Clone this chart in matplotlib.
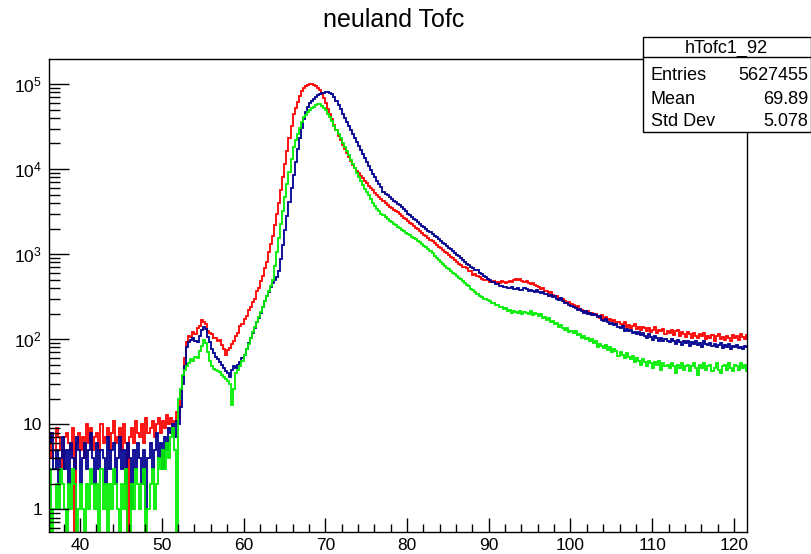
import numpy as np
import matplotlib
matplotlib.use('Agg')
from matplotlib import pyplot as plt
from matplotlib.patches import Rectangle
from matplotlib.lines import Line2D
from matplotlib.ticker import MultipleLocator, LogLocator, FuncFormatter

# histogram binning (0.25 wide bins starting at 36)
bin_lo = 36.0
bin_width = 0.25

# bin contents, 36 -> 122
red_counts = [
    6, 8, 4, 5, 9, 7, 5, 3, 7, 8,
    6, 5, 9, 0, 6, 8, 5, 7, 4, 10,
    6, 9, 5, 7, 8, 5, 10, 6, 7, 9,
    5, 8, 11, 6, 7, 9, 5, 10, 6, 0,
    7, 9, 6, 11, 8, 7, 10, 6, 12, 8,
    9, 11, 7, 10, 12, 8, 11, 9, 13, 10,
    12, 9, 11, 14,
    12, 24, 36, 60, 92, 110, 106, 122, 116, 134, 144, 168, 158, 152, 124, 118, 114, 102, 104, 96,
    98, 86, 76, 66, 74, 78, 88, 94, 110, 118, 142, 150, 172, 186, 220, 242, 275, 300, 365, 405,
    480, 560, 680, 800, 1070, 1310, 1620, 2190, 2950, 3980,
    5620, 8130, 11500, 16200, 22900, 32400, 44700, 52500, 61700, 72400,
    83000, 89000, 94400, 97700, 100000, 99800, 98000, 95000, 91000, 85000,
    77000, 68000, 59500, 51500, 44500, 38500, 33000, 28500, 24800, 21800,
    19200, 17100, 15300, 13800, 12450, 11250, 10300, 9600, 8900, 8300,
    7780, 7300, 6800, 6380, 5950, 5630, 5240, 4960, 4650, 4420,
    4170, 3980, 3800, 3630, 3470, 3310, 3200, 3090, 2950, 2820,
    2690, 2570, 2450, 2340, 2240, 2140, 2040, 1950, 1860, 1780,
    1700, 1620, 1550, 1480, 1410, 1350, 1290, 1230, 1175, 1120,
    1070, 1020, 980, 935, 890, 850, 815, 775, 740, 710,
    700, 680, 640, 628, 570, 584, 548, 536, 512, 500, 492, 506, 476, 466, 482, 458, 470, 460, 478, 470,
    454, 468, 486, 470, 496, 508, 492, 516, 488, 470, 482, 460, 446, 458, 430, 418, 410, 392, 398, 372,
    372, 352, 360, 334, 326, 318, 306, 296, 300, 280, 270, 276, 258, 250, 236, 248, 228, 222, 216, 210,
    212, 196, 206, 190, 198, 186, 178, 192, 174, 182, 166, 172, 162, 168, 152, 160, 150, 146, 158, 140,
    148, 136, 144, 150, 132, 140, 128, 138, 134, 126, 136, 122, 130, 140, 118, 128, 124, 132, 114, 126,
    118, 128, 112, 124, 130, 108, 120, 114, 106, 122, 116, 104, 118, 110, 102, 114, 108, 118, 100, 110,
    104, 112, 96, 108, 116, 100, 106, 98, 110, 102, 96, 112, 104, 110, 98, 114, 106, 100, 112, 104,
]
blue_counts = [
    4, 6, 8, 3, 5, 2, 4, 7, 3, 5,
    2, 6, 4, 3, 7, 5, 2, 4, 6, 3,
    5, 8, 4, 2, 6, 3, 5, 4, 2, 7,
    3, 5, 6, 2, 4, 7, 3, 5, 2, 6,
    4, 1, 5, 3, 6, 4, 2, 5, 1, 4,
    6, 3, 5, 8, 4, 6, 3, 7, 5, 9,
    8, 10, 7, 11,
    10, 16, 30, 48, 80, 92, 98, 104, 96, 92, 110, 128, 140, 132, 106, 92, 76, 68, 62, 58,
    54, 50, 46, 42, 40, 36, 44, 48, 46, 50, 54, 60, 66, 76, 90, 102, 118, 134, 158, 178,
    205, 240, 280, 320, 360, 410, 455, 500, 545, 640,
    880, 1290, 1910, 2820, 4150, 6000, 8600, 12200, 17000, 23000,
    30500, 38500, 46500, 54000, 59500, 63500, 67500, 71000, 74000, 76500,
    78500, 79500, 80000, 79800, 78500, 75500, 70500, 64000, 57000, 50500,
    44500, 39500, 35500, 32000, 29000, 26000, 23500, 21000, 18800, 16800,
    15000, 13400, 12000, 10800, 9700, 8800, 8000, 7300, 6700, 6150,
    5370, 5130, 4900, 4680, 4470, 4270, 4070, 3940, 3800, 3590,
    3390, 3200, 2990, 2860, 2730, 2610, 2490, 2380, 2270, 2170,
    2070, 1980, 1890, 1800, 1720, 1640, 1570, 1500, 1430, 1370,
    1310, 1250, 1190, 1140, 1090, 1040, 990, 945, 905, 865,
    805, 765, 745, 712, 694, 660, 646, 604, 584, 550, 536, 506, 496, 472, 466, 446, 444, 426, 424, 410,
    412, 398, 396, 408, 386, 392, 400, 384, 380, 396, 388, 372, 382, 370, 358, 376, 362, 348, 356, 336,
    338, 324, 330, 312, 318, 300, 288, 302, 278, 264, 270, 252, 246, 238, 232, 222, 226, 214, 204, 212,
    200, 204, 192, 198, 194, 182, 188, 170, 164, 174, 158, 150, 156, 146, 150, 138, 134, 142, 126, 132,
    124, 130, 118, 122, 116, 120, 112, 118, 110, 104, 114, 106, 98, 108, 102, 96, 104, 94, 100, 96,
    92, 100, 96, 88, 98, 92, 86, 96, 90, 94, 84, 92, 88, 96, 86, 90, 82, 94, 88, 86,
    90, 84, 88, 80, 86, 90, 78, 86, 82, 88, 76, 84, 80, 86, 78, 82, 76, 84, 80, 78,
]
green_counts = [
    2, 3, 0, 1, 2, 1, 3, 2, 1, 0,
    2, 1, 3, 2, 0, 1, 2, 1, 0, 2,
    1, 3, 2, 1, 2, 0, 3, 1, 2, 0,
    2, 1, 3, 2, 1, 0, 2, 1, 3, 0,
    0, 2, 1, 3, 2, 1, 2, 3, 0, 1,
    2, 3, 1, 2, 4, 3, 5, 3, 6, 4,
    7, 9, 5, 0,
    20, 26, 38, 44, 48, 52, 58, 56, 62, 60, 72, 84, 98, 90, 70, 56, 48, 45, 43, 42,
    41, 38, 36, 34, 32, 30, 17, 26, 40, 44, 48, 56, 66, 76, 89, 102, 120, 138, 158, 182,
    209, 240, 282, 324, 372, 427, 500, 724, 1070, 1550,
    2240, 3240, 4680, 6600, 9330, 13200, 18200, 21900, 25700, 30200,
    35500, 40700, 43700, 46800, 50100, 52500, 54300, 56200, 57500, 57500,
    55600, 52500, 49000, 44700, 40700, 37200, 32400, 28800, 25700, 22900,
    20400, 18200, 16200, 14500, 12900, 11500, 10200, 9100, 8100, 7200,
    6500, 5900, 5350, 4900, 4400, 3950, 3650, 3400, 3200, 3000,
    2850, 2700, 2570, 2460, 2360, 2270, 2180, 2100, 2020, 1940,
    1860, 1790, 1730, 1670, 1610, 1560, 1500, 1440, 1380, 1320,
    1260, 1200, 1140, 1080, 1020, 960, 910, 860, 810, 765,
    730, 695, 665, 635, 605, 580, 555, 530, 505, 485,
    462, 436, 420, 392, 380, 356, 340, 318, 312, 298, 300, 286, 284, 268, 266, 252, 254, 238, 236, 224,
    232, 216, 220, 206, 214, 210, 202, 214, 196, 210, 204, 198, 212, 192, 206, 200, 188, 196, 176, 184,
    170, 176, 158, 164, 152, 156, 140, 148, 136, 128, 134, 122, 126, 118, 124, 112, 116, 104, 110, 100,
    104, 96, 100, 90, 94, 82, 88, 84, 78, 86, 74, 80, 70, 76, 72, 64, 70, 66, 60, 68,
    62, 58, 64, 54, 60, 56, 50, 58, 54, 48, 56, 52, 46, 54, 50, 56, 44, 52, 48, 50,
    46, 52, 48, 40, 50, 46, 52, 44, 48, 50, 42, 48, 52, 46, 38, 50, 46, 52, 44, 48,
    50, 42, 46, 52, 44, 40, 48, 50, 44, 52, 46, 42, 50, 48, 44, 52, 46, 50, 42, 48,
]

title = "neuland Tofc"
stats_name = "hTofc1_92"
stats_labels = ["Entries", "Mean", "Std Dev"]
stats_values = ["5627455", "69.89", "5.078"]

assert len(red_counts) == len(blue_counts) == len(green_counts) == 344

plt.rcParams['font.family'] = ['Liberation Sans', 'DejaVu Sans']

fig = plt.figure(figsize=(8.11, 5.54), dpi=100)
ax = fig.add_axes([0.0604, 0.0397, 0.8607, 0.8538])

edges = bin_lo + bin_width * np.arange(len(red_counts) + 1)
for counts, col in [(red_counts, '#ff0000'), (blue_counts, '#000090'), (green_counts, '#00ee00')]:
    ax.stairs(counts, edges, baseline=None, color=col, lw=1.3)

ax.set_yscale('log', nonpositive='clip')
ax.set_xlim(36.2, 121.6)
ax.set_ylim(0.541, 1.97e5)

def ylab(v, pos):
    if v == 1:
        return "1"
    if v == 10:
        return "10"
    return r"$\mathregular{10^{%d}}$" % round(np.log10(v))

ax.xaxis.set_major_locator(MultipleLocator(10))
ax.xaxis.set_minor_locator(MultipleLocator(2))
ax.yaxis.set_major_locator(LogLocator(base=10, numticks=10))
ax.yaxis.set_minor_locator(LogLocator(base=10, subs=np.arange(2, 10), numticks=10))
ax.yaxis.set_major_formatter(FuncFormatter(ylab))
ax.yaxis.set_minor_formatter(FuncFormatter(lambda v, p: ""))

ax.tick_params(axis='x', which='major', direction='in', length=10, width=1, labelsize=12.5, pad=4)
ax.tick_params(axis='x', which='minor', direction='in', length=5.5, width=1)
ax.tick_params(axis='y', which='major', direction='in', length=14.5, width=1, labelsize=12.5, pad=5)
ax.tick_params(axis='y', which='minor', direction='in', length=8, width=1)
for s in ax.spines.values():
    s.set_linewidth(1)

fig.text(394 / 811, 1 - 20 / 554, title, ha='center', va='center', fontsize=18)

# stats box
W, H = 811, 554
x0, x1 = 643 / W, 810.5 / W
y_top, y_sep, y_bot = 1 - 37 / H, 1 - 57 / H, 1 - 132 / H
fig.patches.append(Rectangle((x0, y_bot), x1 - x0, y_top - y_bot, transform=fig.transFigure,
                             facecolor='white', edgecolor='black', lw=1, zorder=5))
fig.lines.append(Line2D([x0, x1], [y_sep, y_sep], transform=fig.transFigure, color='black', lw=1, zorder=6))
fig.text((x0 + x1) / 2, 1 - 48 / H, stats_name, ha='center', va='center', fontsize=13, zorder=7)
for k, (lab, val) in enumerate(zip(stats_labels, stats_values)):
    yy = 1 - (76 + 23 * k) / H
    fig.text(651 / W, yy, lab, ha='left', va='center', fontsize=13, zorder=7)
    fig.text(808 / W, yy, val, ha='right', va='center', fontsize=13, zorder=7)

fig.savefig('out.png', dpi=100)
